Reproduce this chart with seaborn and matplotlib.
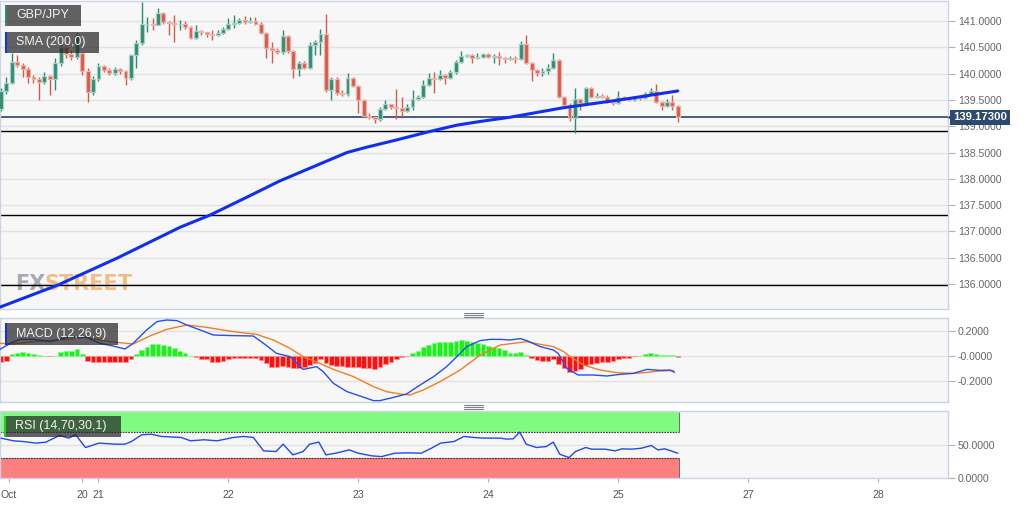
import matplotlib
matplotlib.use("Agg")
import matplotlib.pyplot as plt
import matplotlib.transforms as mtransforms
from matplotlib.patches import Rectangle
from matplotlib.lines import Line2D
import numpy as np
import seaborn as sns

sns.set_style("white")
plt.rcParams['font.family'] = ['Liberation Sans', 'DejaVu Sans']

# ---- GBP/JPY hourly candles ----
opens = [139.33, 139.67, 139.82, 140.22, 140.16, 140.09, 139.93, 139.90, 139.84, 139.95,
         139.90, 140.20, 140.50, 140.38, 140.32, 140.39, 140.05, 139.65, 139.90, 140.14,
         140.07, 140.01, 140.08, 140.04, 139.92, 140.35, 140.58, 140.94, 140.95, 140.93,
         141.15, 140.98, 140.96, 140.94, 140.95, 140.89, 140.68, 140.81, 140.79, 140.75,
         140.73, 140.77, 140.85, 140.94, 140.96, 141.02, 140.98, 141.00, 140.95, 140.77,
         140.48, 140.45, 140.41, 140.71, 140.43, 140.09, 140.20, 140.11, 140.54, 140.60,
         140.75, 139.69, 139.90, 139.63, 139.61, 139.92, 139.76, 139.50, 139.19, 139.17,
         139.14, 139.33, 139.42, 139.37, 139.35, 139.29, 139.36, 139.52, 139.56, 139.78,
         139.92, 139.90, 139.97, 139.92, 140.03, 140.22, 140.33, 140.35, 140.30, 140.32,
         140.37, 140.32, 140.33, 140.30, 140.28, 140.29, 140.27, 140.57, 140.20, 140.07,
         140.01, 140.05, 140.10, 140.25, 139.56, 139.40, 139.15, 139.52, 139.44, 139.73,
         139.56, 139.58, 139.56, 139.46, 139.44, 139.56, 139.52, 139.50, 139.55, 139.53,
         139.61, 139.67, 139.46, 139.38, 139.46, 139.38]
closes = [139.67, 139.82, 140.22, 140.16, 140.09, 139.93, 139.90, 139.84, 139.95, 139.90,
          140.20, 140.50, 140.38, 140.32, 140.73, 140.05, 139.65, 139.90, 140.14, 140.07,
          140.01, 140.08, 140.04, 139.92, 140.35, 140.58, 140.94, 140.95, 140.93, 141.15,
          140.98, 140.96, 140.94, 140.95, 140.89, 140.68, 140.81, 140.79, 140.75, 140.73,
          140.77, 140.85, 140.94, 140.96, 141.02, 140.98, 141.00, 140.95, 140.77, 140.48,
          140.45, 140.41, 140.71, 140.43, 140.09, 140.20, 140.11, 140.54, 140.60, 140.75,
          139.69, 139.90, 139.63, 139.61, 139.92, 139.76, 139.50, 139.19, 139.17, 139.14,
          139.33, 139.42, 139.37, 139.35, 139.29, 139.36, 139.52, 139.56, 139.78, 139.92,
          139.90, 139.97, 139.92, 140.03, 140.22, 140.33, 140.35, 140.30, 140.32, 140.37,
          140.32, 140.33, 140.30, 140.28, 140.29, 140.27, 140.57, 140.20, 140.07, 140.01,
          140.05, 140.10, 140.25, 139.56, 139.40, 139.15, 139.52, 139.44, 139.73, 139.56,
          139.58, 139.56, 139.46, 139.44, 139.56, 139.52, 139.50, 139.55, 139.53, 139.61,
          139.67, 139.46, 139.38, 139.46, 139.38, 139.17]
highs = [139.72, 139.94, 140.39, 140.35, 140.20, 140.13, 139.98, 139.93, 140.03, 139.98,
         140.30, 140.58, 140.55, 140.45, 140.77, 140.42, 140.10, 139.95, 140.20, 140.17,
         140.10, 140.13, 140.10, 140.07, 140.38, 140.64, 141.37, 141.08, 141.05, 141.25,
         141.18, 141.00, 141.11, 141.02, 141.00, 140.90, 140.92, 140.83, 140.80, 140.83,
         140.82, 140.88, 141.06, 141.11, 141.05, 141.09, 141.08, 141.08, 140.98, 140.79,
         140.60, 140.48, 140.83, 140.74, 140.45, 140.24, 140.24, 140.60, 140.64, 140.85,
         141.13, 139.93, 139.94, 139.69, 140.01, 139.94, 139.79, 139.52, 139.25, 139.20,
         139.37, 139.50, 139.43, 139.71, 139.56, 139.42, 139.69, 139.60, 139.88, 140.01,
         140.03, 140.07, 140.00, 140.07, 140.26, 140.43, 140.38, 140.37, 140.39, 140.40,
         140.39, 140.37, 140.41, 140.31, 140.33, 140.33, 140.62, 140.73, 140.22, 140.09,
         140.11, 140.18, 140.39, 140.28, 139.58, 139.44, 139.73, 139.52, 139.75, 139.74,
         139.63, 139.61, 139.59, 139.47, 139.67, 139.57, 139.53, 139.58, 139.57, 139.65,
         139.73, 139.80, 139.48, 139.52, 139.59, 139.40]
lows = [139.28, 139.62, 139.80, 140.13, 139.94, 139.82, 139.83, 139.50, 139.80, 139.59,
        139.69, 140.15, 140.30, 140.25, 140.28, 139.98, 139.46, 139.60, 139.85, 140.03,
        139.98, 139.98, 139.99, 139.78, 139.88, 140.10, 140.55, 140.79, 140.83, 140.92,
        140.95, 140.73, 140.60, 140.83, 140.85, 140.65, 140.66, 140.74, 140.70, 140.64,
        140.72, 140.75, 140.83, 140.87, 140.94, 140.95, 140.96, 140.93, 140.75, 140.30,
        140.20, 140.38, 140.37, 140.40, 139.92, 139.95, 140.08, 140.08, 140.35, 140.35,
        139.65, 139.50, 139.60, 139.57, 139.57, 139.74, 139.25, 139.17, 139.14, 139.06,
        139.10, 139.31, 139.33, 139.14, 139.16, 139.27, 139.31, 139.50, 139.54, 139.76,
        139.63, 139.88, 139.80, 139.90, 140.00, 140.20, 140.31, 140.20, 140.27, 140.30,
        140.29, 140.20, 140.16, 140.20, 140.26, 140.20, 140.25, 140.18, 139.86, 139.95,
        139.95, 140.00, 140.08, 139.54, 139.38, 139.10, 138.87, 139.31, 139.42, 139.54,
        139.54, 139.53, 139.44, 139.40, 139.43, 139.50, 139.48, 139.48, 139.50, 139.51,
        139.60, 139.44, 139.31, 139.36, 139.31, 139.08]

# SMA(200) read at sample points (candle index, price)
sma_x = [-0.2, 10.5, 21.4, 33.1, 38.6, 45.4, 51.5, 57.7, 63.9, 67.5, 73.1, 79.2, 84.2,
         88.5, 94.0, 103.8, 114.3, 125.0]
sma_y = [135.56, 135.98, 136.49, 137.08, 137.31, 137.65, 137.96, 138.23, 138.50, 138.60,
         138.74, 138.90, 139.02, 139.09, 139.17, 139.35, 139.50, 139.67]

last_price = 139.173
levels = [138.91, 137.31, 135.99]

# MACD (12,26,9)
macd_x = [-0.2, 1.7, 3.5, 6.0, 9.1, 12.7, 15.8, 18.3, 20.7, 22.9, 24.4, 26.9, 28.8, 30.6,
          32.5, 34.3, 36.8, 39.2, 42.9, 46.6, 48.5, 50.9, 53.4, 55.8, 58.3, 59.5, 61.4, 63.9,
          66.3, 68.8, 70.0, 72.5, 74.9, 77.4, 79.9, 82.3, 84.2, 86.0, 88.5, 90.3, 92.2, 94.0,
          95.9, 97.1, 99.6, 102.0, 102.9, 104.5, 106.6, 109.4, 111.9, 114.3, 116.8, 119.3,
          121.7, 123.6, 124.4]
macd_y = [0.053, 0.101, 0.133, 0.133, 0.115, 0.155, 0.149, 0.101, 0.080, 0.056, 0.101, 0.208,
          0.275, 0.288, 0.283, 0.248, 0.208, 0.168, 0.163, 0.160, 0.101, 0.021, -0.005, -0.107,
          -0.085, -0.125, -0.219, -0.285, -0.320, -0.357, -0.357, -0.331, -0.304, -0.232,
          -0.165, -0.085, -0.005, 0.075, 0.123, 0.133, 0.133, 0.128, 0.139, 0.123, 0.075,
          0.048, 0.021, -0.099, -0.152, -0.152, -0.160, -0.147, -0.139, -0.107, -0.115,
          -0.112, -0.131]
signal_x = [-0.2, 2.3, 6.0, 12.1, 15.8, 20.1, 24.4, 27.5, 30.6, 34.3, 38.0, 42.9, 47.2, 50.3,
            53.4, 55.8, 58.9, 61.4, 65.1, 68.8, 71.2, 73.7, 75.5, 78.0, 81.1, 84.8, 88.5, 92.2,
            94.6, 97.1, 99.6, 102.0, 103.9, 105.1, 107.6, 110.6, 113.7, 116.8, 119.3, 121.7,
            124.2]
signal_y = [0.101, 0.096, 0.115, 0.133, 0.149, 0.115, 0.096, 0.160, 0.213, 0.248, 0.229,
            0.195, 0.173, 0.128, 0.061, -0.005, -0.059, -0.107, -0.165, -0.245, -0.285,
            -0.304, -0.312, -0.272, -0.205, -0.112, 0.008, 0.088, 0.101, 0.115, 0.093, 0.075,
            0.035, -0.005, -0.072, -0.112, -0.133, -0.139, -0.131, -0.120, -0.117]
hist = [-0.050, -0.040, 0.013, 0.027, 0.032, 0.027, 0.016, 0.005, 0.003, -0.003,
        0.003, 0.032, 0.037, 0.037, 0.053, 0.015, -0.037, -0.045, -0.045, -0.045,
        -0.045, -0.045, -0.045, -0.048, -0.027, 0.013, 0.048, 0.075, 0.093, 0.093,
        0.085, 0.080, 0.061, 0.043, 0.021, 0.002, -0.011, -0.027, -0.027, -0.045,
        -0.045, -0.037, -0.027, -0.019, -0.013, -0.013, -0.013, -0.013, -0.032, -0.059,
        -0.085, -0.085, -0.080, -0.091, -0.099, -0.099, -0.091, -0.072, -0.059, -0.027,
        -0.059, -0.072, -0.080, -0.080, -0.085, -0.085, -0.091, -0.099, -0.099, -0.104,
        -0.085, -0.064, -0.045, -0.027, -0.011, -0.003, 0.021, 0.043, 0.069, 0.091,
        0.107, 0.109, 0.115, 0.115, 0.120, 0.125, 0.120, 0.109, 0.101, 0.093,
        0.080, 0.075, 0.061, 0.048, 0.027, 0.021, 0.029, 0.008, -0.013, -0.032,
        -0.040, -0.040, -0.024, -0.064, -0.099, -0.131, -0.117, -0.107, -0.072, -0.064,
        -0.053, -0.045, -0.045, -0.037, -0.027, -0.019, -0.019, -0.003, 0.002, 0.013,
        0.021, 0.016, 0.008, 0.008, 0.008, -0.011]

# RSI (14,70,30,1)
rsi_x = [0.0, 2.3, 4.0, 6.5, 8.3, 10.8, 12.5, 13.8, 15.6, 18.1, 21.1, 22.9, 24.1, 26.0, 27.7,
         29.6, 33.3, 35.0, 37.5, 39.9, 42.9, 44.8, 46.6, 48.5, 50.8, 52.1, 53.9, 55.8, 57.0,
         58.7, 60.0, 61.8, 64.3, 66.0, 68.5, 70.3, 72.7, 75.2, 77.6, 79.5, 81.2, 83.7, 85.5,
         87.3, 89.1, 92.2, 93.4, 94.6, 95.8, 97.0, 98.9, 100.7, 102.0, 103.2, 104.9, 106.1,
         108.0, 109.1, 111.6, 113.4, 114.7, 116.5, 118.3, 120.1, 121.3, 122.6, 125.0]
rsi_y = [60.2, 56.1, 55.1, 52.6, 54.1, 64.3, 60.2, 65.3, 45.9, 52.6, 51.0, 51.0, 55.1, 65.3,
         66.3, 62.8, 61.2, 56.1, 57.7, 56.1, 61.2, 62.8, 61.2, 40.8, 39.8, 51.0, 34.7, 39.8,
         51.0, 54.1, 34.7, 37.2, 42.3, 37.2, 33.2, 32.1, 37.2, 37.8, 37.2, 44.9, 52.6, 55.1,
         62.8, 61.2, 60.2, 60.2, 58.7, 59.2, 69.4, 51.0, 45.9, 47.4, 54.1, 35.7, 30.6, 39.8,
         45.9, 43.4, 43.4, 40.8, 43.9, 43.4, 44.9, 49.0, 42.3, 43.9, 37.2]

date_pos = [1.4, 15, 18, 42, 66, 90, 114, 138, 162]
date_labels = ['Oct', '20', '21', '22', '23', '24', '25', '27', '28']

price_ticks = [136.0, 136.5, 137.0, 137.5, 138.0, 138.5, 139.0, 139.5, 140.0, 140.5, 141.0]
macd_ticks = [-0.2, 0.0, 0.2]
macd_tick_labels = ['-0.2000', '-0.0000', '0.2000']
rsi_ticks = [0, 50]
rsi_tick_labels = ['0.0000', '50.0000']

# ---- figure ----
W, H = 1032, 505
fig = plt.figure(figsize=(W / 100, H / 100), dpi=100)
fig.patch.set_facecolor('white')


def pbox(x0, y0, x1, y1):
    return [x0 / W, 1 - y1 / H, (x1 - x0) / W, (y1 - y0) / H]


ax_p = fig.add_axes(pbox(0, 1, 948, 309))
ax_m = fig.add_axes(pbox(0, 318, 948, 402))
ax_r = fig.add_axes(pbox(0, 411, 948, 478))

xlim = (-0.185, 174.9)
for ax in (ax_p, ax_m, ax_r):
    ax.set_facecolor('#f7f7f7')
    ax.set_xlim(*xlim)
    for s in ax.spines.values():
        s.set_color('#cbd4e6')
        s.set_linewidth(1)
    ax.yaxis.tick_right()
    ax.tick_params(axis='y', which='both', right=True, left=False, length=5, width=0.8,
                   color='#b0b0b0', labelcolor='#666666', labelsize=7.6, pad=2)
    ax.grid(axis='y', color='#e2e2e2', linewidth=1)
    ax.grid(axis='x', visible=False)
    ax.set_axisbelow(True)

# main price panel
k = np.arange(len(closes))
o = np.array(opens)
c = np.array(closes)
up = c >= o
body_col = np.where(up, '#2e8a72', '#d65a4b')
edge_col = np.where(up, '#a8d0c4', '#eeb3aa')
ax_p.vlines(k, lows, highs, colors=body_col, linewidth=1.0, zorder=3)
bottom = np.minimum(o, c)
height = np.maximum(np.abs(c - o), 0.012)
ax_p.bar(k, height, bottom=bottom, width=0.72, color=body_col, edgecolor=edge_col,
         linewidth=0.9, zorder=4)

for lv in levels:
    ax_p.axhline(lv, color='black', linewidth=1.0, zorder=2)
ax_p.axhline(last_price, color='#2b4468', linewidth=1.2, zorder=2)

sns.lineplot(x=sma_x, y=sma_y, ax=ax_p, color='#1030ee', linewidth=2.2, zorder=5)

ax_p.set_ylim(135.525, 141.38)
ax_p.set_yticks(price_ticks)
ax_p.set_yticklabels([f'{t:.4f}' for t in price_ticks])
ax_p.set_xticks([])
ax_p.set_xlabel('')
ax_p.set_ylabel('')

# watermark
ax_p.text(15 / 948, 19 / 308, 'FX', transform=ax_p.transAxes, fontsize=15,
          fontweight='bold', color='#9ea1a8', alpha=0.9, va='baseline', ha='left',
          family=['DejaVu Sans'], zorder=1)
ax_p.text(45 / 948, 19 / 308, 'STREET', transform=ax_p.transAxes, fontsize=15,
          fontweight='bold', color='#f2b373', alpha=0.85, va='baseline', ha='left',
          family=['DejaVu Sans'], zorder=1)

# last price tag
blend = mtransforms.blended_transform_factory(ax_p.transAxes, ax_p.transData)
ax_p.text(1 + 5 / 948, last_price, '139.17300', transform=blend, ha='left', va='center',
          fontsize=8.2, fontweight='bold', color='white', clip_on=False, zorder=10,
          bbox=dict(boxstyle='square,pad=0.22', fc='#2c4a6e', ec='none'))
ax_p.plot([1 + 2.5 / 948], [last_price], marker='<', markersize=4.5, color='#2c4a6e',
          transform=blend, clip_on=False, zorder=10)

# MACD panel
hist_arr = np.array(hist)
hcol = np.where(hist_arr >= 0, '#1ef01e', '#ff1010')
hedge = np.where(hist_arr >= 0, '#8cf58c', '#ff8c8c')
ax_m.bar(k, hist_arr, width=0.85, color=hcol, edgecolor=hedge, linewidth=0.6, zorder=2)
sns.lineplot(x=signal_x, y=signal_y, ax=ax_m, color='#f47d20', linewidth=1.0, zorder=3)
sns.lineplot(x=macd_x, y=macd_y, ax=ax_m, color='#2450ee', linewidth=1.0, zorder=4)
ax_m.set_ylim(-0.368, 0.304)
ax_m.set_yticks(macd_ticks)
ax_m.set_yticklabels(macd_tick_labels)
ax_m.set_xticks([])
ax_m.set_xlabel('')
ax_m.set_ylabel('')

# RSI panel
band_end = 125.3
ax_r.fill_between([xlim[0], band_end], 70, 100, color='#80fb80', linewidth=0, zorder=1)
ax_r.fill_between([xlim[0], band_end], 0, 30, color='#fd7f7f', linewidth=0, zorder=1)
ax_r.hlines([70, 30], xlim[0], band_end, colors='#333333', linewidth=0.8,
            linestyles=(0, (1.5, 1)), zorder=2)
ax_r.vlines([band_end, band_end], [0, 70], [30, 100], colors='#555555', linewidth=0.6,
            zorder=2)
sns.lineplot(x=rsi_x, y=rsi_y, ax=ax_r, color='#2448ee', linewidth=1.0, zorder=3)
ax_r.set_ylim(-0.5, 101.5)
ax_r.set_yticks(rsi_ticks)
ax_r.set_yticklabels(rsi_tick_labels)
ax_r.set_xticks(date_pos)
ax_r.set_xticklabels(date_labels)
ax_r.tick_params(axis='x', bottom=True, length=3, width=0.8, color='#b0b0b0',
                 labelcolor='#555555', labelsize=7.6, pad=6)
ax_r.set_xlabel('')
ax_r.set_ylabel('')


# indicator name boxes
def name_box(x0, y0, x1, y1, txt, strip):
    fig.add_artist(Rectangle((x0 / W, 1 - y1 / H), (x1 - x0) / W, (y1 - y0) / H,
                             transform=fig.transFigure, facecolor='#222222', alpha=0.7,
                             edgecolor='none', zorder=20))
    fig.add_artist(Rectangle((x0 / W, 1 - y1 / H), 2.2 / W, (y1 - y0) / H,
                             transform=fig.transFigure, facecolor=strip,
                             edgecolor='none', zorder=21))
    fig.text((x0 + 11) / W, 1 - (y0 + y1) / 2 / H, txt, color='#f2f2f2', fontsize=9,
             va='center', ha='left', zorder=22)


name_box(5, 5, 81, 26, 'GBP/JPY', '#2e8a72')
name_box(5, 32, 99, 53, 'SMA (200,0)', '#1030ee')
name_box(5, 323, 118, 345, 'MACD (12,26,9)', '#1030ee')
name_box(4, 416, 121, 437, 'RSI (14,70,30,1)', '#22d022')

# panel resize handles
for ys in ((313, 315, 317), (405, 407, 409)):
    for yy in ys:
        fig.add_artist(Line2D([464 / W, 483 / W], [1 - yy / H, 1 - yy / H],
                              transform=fig.transFigure, color='#808080', linewidth=0.8))

fig.savefig('out.png', dpi=100)
